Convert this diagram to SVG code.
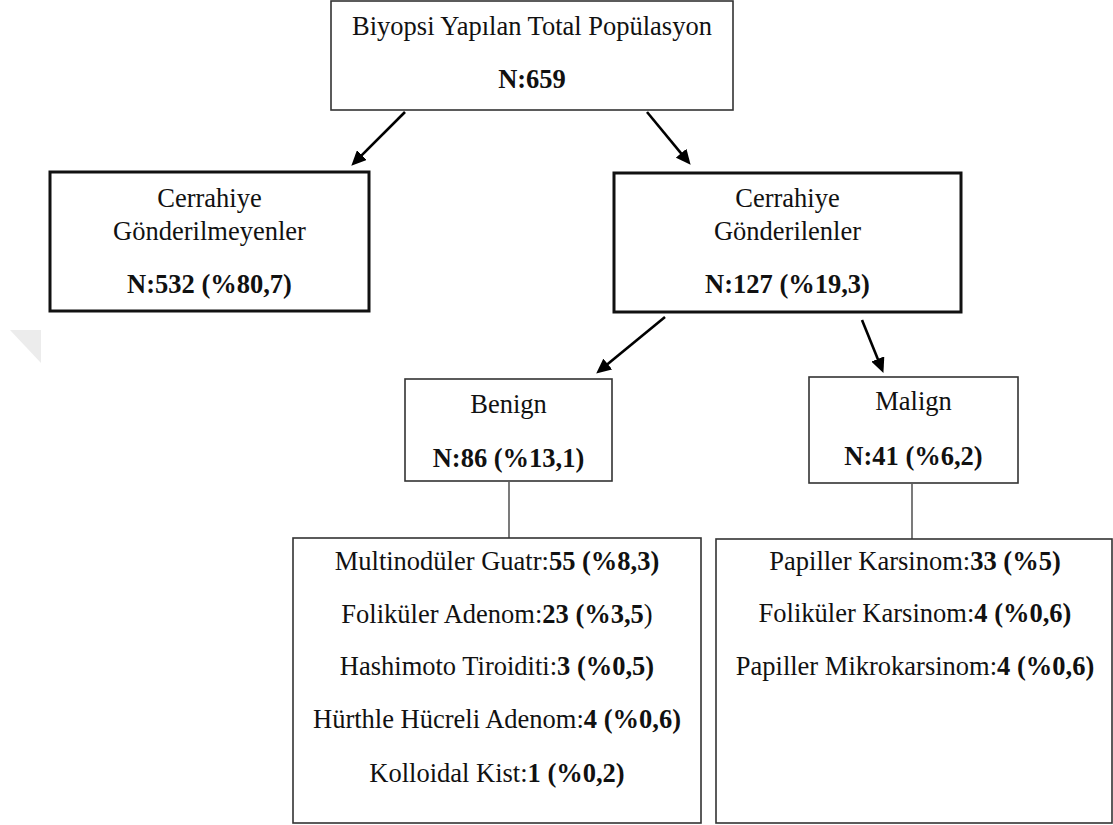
<svg xmlns="http://www.w3.org/2000/svg" width="1113" height="825" viewBox="0 0 1113 825">
<style>
.t{font-family:"Liberation Serif","Times New Roman",serif;font-size:26.5px;fill:#111;text-anchor:middle}
.b{font-weight:bold}
.thin{fill:#fff;stroke:#333;stroke-width:1.6}
.thick{fill:#fff;stroke:#111;stroke-width:3}
.arr{stroke:#000;stroke-width:2.6;fill:none;marker-end:url(#ah)}
.ln{stroke:#333;stroke-width:1.3;fill:none}
</style>
<defs>
<marker id="ah" markerUnits="userSpaceOnUse" markerWidth="15" markerHeight="14" refX="4" refY="7" orient="auto">
<path d="M0,0 L15,7 L0,14 z" fill="#000"/>
</marker>
</defs>
<rect width="1113" height="825" fill="#fff"/>
<polygon points="10,330 41,330 41,363" fill="#ececec"/>
<g id="connectors">
<line class="arr" x1="405" y1="112" x2="359.1" y2="157.9"/>
<line class="arr" x1="647" y1="112" x2="683.6" y2="156.3"/>
<line class="arr" x1="665" y1="317" x2="604.7" y2="366.6"/>
<line class="arr" x1="862" y1="320" x2="879.3" y2="362.7"/>
<line class="ln" x1="509" y1="482" x2="509" y2="538"/>
<line class="ln" x1="912" y1="484" x2="912" y2="539"/>
</g>
<g id="total">
<rect class="thin" x="331" y="1" width="402" height="109"/>
<text class="t" x="532" y="35">Biyopsi Yapılan Total Popülasyon</text>
<text class="t b" x="532" y="88">N:659</text>
</g>
<g id="not-referred">
<rect class="thick" x="50" y="172" width="319" height="139"/>
<text class="t" x="209.5" y="207">Cerrahiye</text>
<text class="t" x="209.5" y="240">Gönderilmeyenler</text>
<text class="t b" x="209.5" y="293">N:532 (%80,7)</text>
</g>
<g id="referred">
<rect class="thick" x="614" y="173" width="347" height="139"/>
<text class="t" x="787.5" y="207">Cerrahiye</text>
<text class="t" x="787.5" y="240">Gönderilenler</text>
<text class="t b" x="787.5" y="293">N:127 (%19,3)</text>
</g>
<g id="benign">
<rect class="thin" x="405" y="379" width="207" height="102"/>
<text class="t" x="508.5" y="413">Benign</text>
<text class="t b" x="508.5" y="467">N:86 (%13,1)</text>
</g>
<g id="malign">
<rect class="thin" x="809" y="377" width="209" height="106"/>
<text class="t" x="913.5" y="410">Malign</text>
<text class="t b" x="913.5" y="465">N:41 (%6,2)</text>
</g>
<g id="benign-list">
<rect class="thin" x="293" y="538" width="408" height="285"/>
<text class="t" x="497" y="570">Multinodüler Guatr:<tspan class="b">55 (%8,3)</tspan></text>
<text class="t" x="497" y="623">Foliküler Adenom:<tspan class="b">23 (%3,5</tspan>)</text>
<text class="t" x="497" y="675">Hashimoto Tiroiditi:<tspan class="b">3 (%0,5)</tspan></text>
<text class="t" x="497" y="728">Hürthle Hücreli Adenom:<tspan class="b">4 (%0,6)</tspan></text>
<text class="t" x="497" y="782">Kolloidal Kist:<tspan class="b">1 (%0,2)</tspan></text>
</g>
<g id="malign-list">
<rect class="thin" x="716" y="539" width="396" height="284"/>
<text class="t" x="915" y="570">Papiller Karsinom:<tspan class="b">33 (%5)</tspan></text>
<text class="t" x="915" y="622">Foliküler Karsinom:<tspan class="b">4 (%0,6)</tspan></text>
<text class="t" x="915" y="675">Papiller Mikrokarsinom:<tspan class="b">4 (%0,6)</tspan></text>
</g>
</svg>
